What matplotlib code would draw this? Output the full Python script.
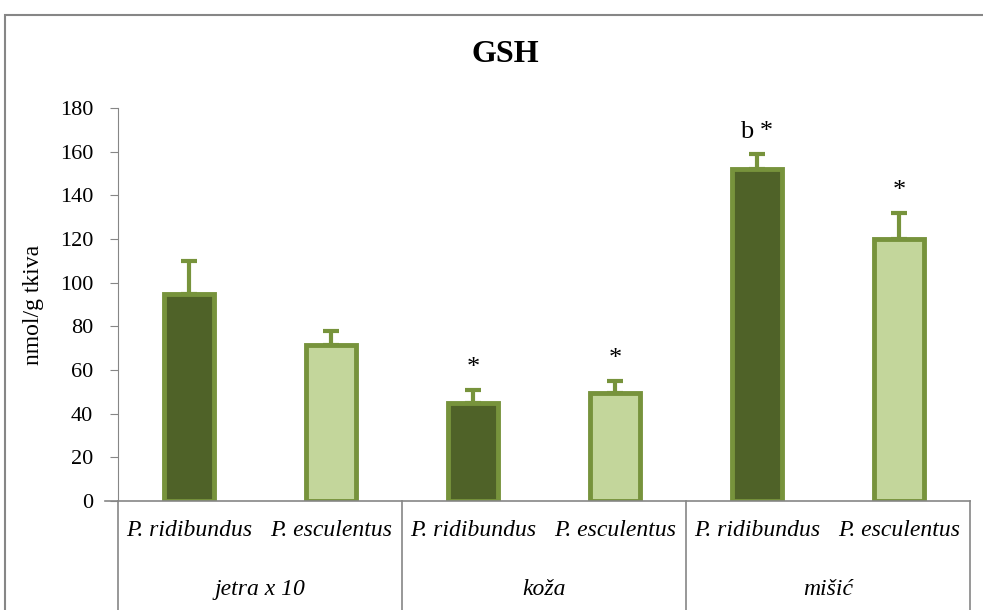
import matplotlib.pyplot as plt
import matplotlib.patches as mpatches
from matplotlib.transforms import blended_transform_factory

# data
groups = ['jetra x 10', 'koža', 'mišić']
species = ['P. ridibundus', 'P. esculentus']
values = [95, 71.5, 45, 49.5, 152, 120]
errors = [15, 6.5, 6, 5.5, 7, 12]
marks = ['', '', '*', '*', 'b *', '*']

dark = '#4F6228'
light = '#C3D69B'
edge = '#77933C'
grey = '#868686'

plt.rcParams['font.family'] = ['Liberation Serif', 'DejaVu Serif']

fig = plt.figure(figsize=(9.83, 6.10), dpi=100)
ax = fig.add_axes([118 / 983, 109 / 610, (970 - 118) / 983, 393 / 610])

xs = [i + 0.5 for i in range(len(values))]
colors = [dark if i % 2 == 0 else light for i in range(len(values))]
ax.bar(xs, values, width=0.35, color=colors, edgecolor=edge, linewidth=3.5, zorder=2)
ax.errorbar(xs, values, yerr=[[0] * len(errors), errors], fmt='none',
            ecolor=edge, elinewidth=3, capsize=6, capthick=3, zorder=1)

for x, v, e, m in zip(xs, values, errors, marks):
    if m:
        ax.text(x, v + e + 5, m, ha='center', va='bottom', fontsize=19)

ax.set_xlim(0, 6)
ax.set_ylim(0, 180)
ax.set_yticks(range(0, 181, 20))
ax.tick_params(axis='y', labelsize=16, length=6, color=grey, direction='out', pad=12)
ax.set_xticks([])
for s in ['top', 'right']:
    ax.spines[s].set_visible(False)
ax.spines['left'].set_color(grey)
ax.spines['bottom'].set_color(grey)
ax.spines['bottom'].set_linewidth(1.2)
ax.set_ylabel('nmol/g tkiva', fontsize=17, labelpad=11)

# category table under the axis
tr = blended_transform_factory(ax.transData, ax.transAxes)
for gx in [0, 2, 4, 6]:
    ax.plot([gx, gx], [0, -0.3], color=grey, lw=1.2, transform=tr, clip_on=False)
ax.plot([-0.09, 0], [0, 0], color=grey, lw=1.2, transform=tr, clip_on=False)
for i, x in enumerate(xs):
    ax.text(x, -0.074, species[i % 2], ha='center', va='center', style='italic',
            fontsize=17, transform=tr)
for g, name in enumerate(groups):
    ax.text(2 * g + 1, -0.226, name, ha='center', va='center', style='italic',
            fontsize=17, transform=tr)

fig.text(505 / 983, 1 - 55 / 610, 'GSH', ha='center', va='center',
         fontsize=23, fontweight='bold')

# outer chart frame
fig.patches.append(mpatches.Rectangle((5 / 983, -0.1), 1.2, (610 - 15) / 610 + 0.1,
                                      transform=fig.transFigure, fill=False,
                                      edgecolor=grey, lw=1.5))

fig.savefig('out.png', dpi=100)
